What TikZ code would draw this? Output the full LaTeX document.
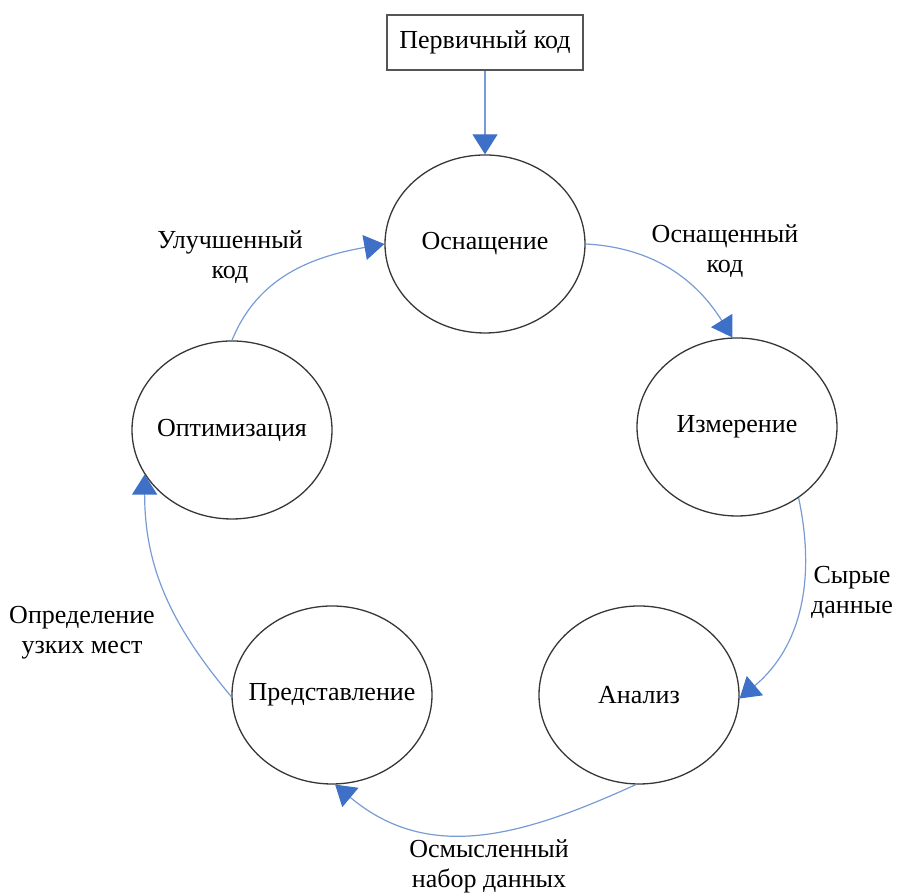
\documentclass[tikz,border=0pt]{standalone}
\usepackage{fontspec}
\setmainfont{Liberation Serif}
\usetikzlibrary{shapes.geometric,arrows.meta}
\definecolor{linkblue}{RGB}{120,155,212}
\definecolor{tipblue}{RGB}{62,112,200}
\definecolor{ringgray}{RGB}{55,55,55}
\tikzset{
  stage/.style={ellipse,draw=ringgray,line width=1.3pt,minimum width=200pt,minimum height=178pt,inner sep=0pt,
    label={[font=\fontsize{26}{30}\selectfont,inner sep=0pt]center:#1}},
  srcbox/.style={rectangle,draw=ringgray!85,line width=1.1pt,minimum width=196pt,minimum height=55pt,inner sep=0pt,font=\fontsize{26}{30}\selectfont},
  lbl/.style={align=center,inner sep=0pt,font=\fontsize{26}{30}\selectfont},
  link/.style={draw=linkblue,line width=1.2pt,-{Triangle[length=20pt,width=25pt,color=tipblue]}}
}
\begin{document}
\begin{tikzpicture}[x=1pt,y=1pt]
\useasboundingbox (0,0) rectangle (898,893);
\node[srcbox] (src) at (485,850.5) {Первичный код};
\node[stage=Оснащение] (osn) at (485,649) {};
\node[stage=Измерение] (izm) at (737,466) {};
\node[stage=Анализ] (anl) at (639,198) {};
\node[stage=Представление] (pred) at (332,198) {};
\node[stage=Оптимизация] (opt) at (232,463) {};

\node[lbl] (l1) at (725,642) {Оснащенный\\код};
\node[lbl] (l2) at (852,301) {Сырые\\данные};
\node[lbl] (l3) at (489,27) {Осмысленный\\набор данных};
\node[lbl] (l4) at (82,260) {Определение\\узких мест};
\node[lbl] (l5) at (230,636) {Улучшенный\\код};

\draw[link] (src.south) -- (osn.north);
\draw[link] (osn.east) to[out=-3,in=122] (izm.93);
\draw[link] (izm.-49) to[out=-78,in=40] (anl.-2);
\draw[link] (anl.-92) .. controls +(-110,-50) and +(95,-80) .. (pred.-88);
\draw[link] (pred.181) to[out=130,in=-90] (opt.-153);
\draw[link] (opt.north) to[out=68,in=-170] (osn.west);
\end{tikzpicture}
\end{document}
